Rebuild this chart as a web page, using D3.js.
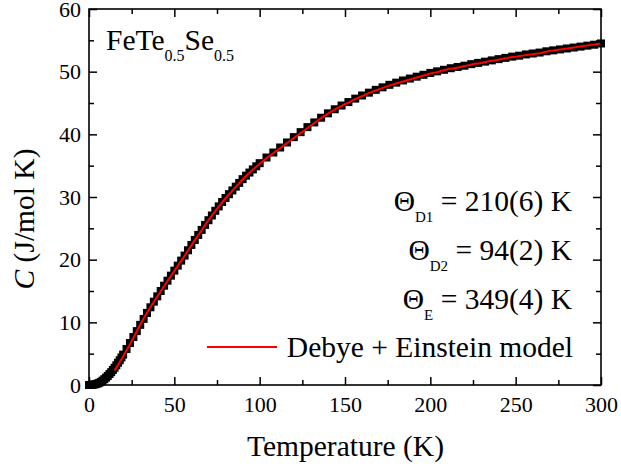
<!DOCTYPE html>
<html>
<head>
<meta charset="utf-8">
<script src="https://cdn.jsdelivr.net/npm/d3@7"></script>
</head>
<body style="margin:0">
<svg id="chart" width="621" height="469"></svg>
<script>
// ---- data ----
const tempK = [0,1,2,3,4,5,6,7,8,9,10,11,12,13,14,15,16,17,18,19,20,
  22,24,26,28,30,32,34,36,38,40,42,44,46,48,50,52,54,56,58,60,62,64,66,68,70,72,74,76,78,80,
  82,84,86,88,90,92,94,96,98,100,
  104,108,112,116,120,124,128,132,136,140,144,148,152,156,160,164,168,172,176,180,
  184,188,192,196,200,204,208,212,216,220,224,228,232,236,240,244,248,252,256,260,
  264,268,272,276,280,284,288,292,296,300];
const heatC = [0.00,0.02,0.04,0.08,0.14,0.23,0.35,0.50,0.70,0.93,1.18,1.45,1.75,2.05,2.40,2.75,3.15,3.55,3.95,4.40,4.85,
  5.75,6.70,7.65,8.60,9.60,10.55,11.50,12.40,13.30,14.15,15.00,15.85,16.65,17.45,18.25,19.05,19.85,20.65,21.50,22.35,23.15,23.95,24.75,25.55,26.30,27.05,27.80,28.50,29.20,29.85,
  30.45,31.05,31.65,32.25,32.85,33.40,33.90,34.40,34.90,35.40,
  36.30,37.10,37.90,38.70,39.55,40.35,41.15,41.90,42.65,43.35,44.00,44.60,45.15,45.70,46.20,46.65,47.10,47.50,47.90,48.25,
  48.60,48.90,49.20,49.50,49.80,50.05,50.30,50.55,50.75,50.95,51.20,51.40,51.60,51.80,52.00,52.20,52.40,52.55,52.75,52.90,
  53.05,53.25,53.40,53.55,53.70,53.85,54.00,54.15,54.30,54.50];

const fitT = [15,20,25,30,35,40,45,50,55,60,65,70,75,80,85,90,95,100,105,110,115,120,125,130,135,140,145,150,
  155,160,165,170,175,180,185,190,195,200,205,210,215,220,225,230,235,240,245,250,255,260,265,270,275,280,285,290,295,300];
const fitC = [2.3,4.6,7.0,9.6,12.0,14.1,16.2,18.2,20.2,22.3,24.3,26.3,28.1,29.8,31.3,32.8,34.1,35.3,36.4,37.4,38.4,39.4,40.4,41.4,42.4,43.3,44.1,44.8,
  45.5,46.1,46.7,47.2,47.7,48.1,48.5,48.9,49.3,49.7,50.0,50.4,50.6,50.9,51.2,51.4,51.7,51.9,52.2,52.4,52.6,52.8,53.0,53.3,53.5,53.7,53.9,54.1,54.3,54.5];

const xMajor = [0,50,100,150,200,250,300];
const xMinor = [25,75,125,175,225,275];
const yMajor = [0,10,20,30,40,50,60];
const yMinor = [5,15,25,35,45,55];

const thetaLabels = [
  {sym: "Θ", sub: "D1", rest: " = 210(6) K"},
  {sym: "Θ", sub: "D2", rest: " = 94(2) K"},
  {sym: "Θ", sub: "E",  rest: " = 349(4) K"}
];
const legendLabel = "Debye + Einstein model";

// ---- layout ----
const SERIF = "'Times New Roman', 'Liberation Serif', Tinos, serif";
const L = 89, R = 601, T = 9, B = 385;
const svg = d3.select("#chart").style("font-family", SERIF, "important");
const x = d3.scaleLinear().domain([0, 300]).range([L, R]);
const y = d3.scaleLinear().domain([0, 60]).range([B, T]);

// data squares
const sq = 8;
svg.append("g").selectAll("rect").data(tempK).join("rect")
  .attr("x", (d) => x(d) - sq / 2)
  .attr("y", (d, i) => y(heatC[i]) - sq / 2)
  .attr("width", sq).attr("height", sq)
  .attr("fill", "#000");

// fit line
const line = d3.line().x((d) => x(d[0])).y((d) => y(d[1])).curve(d3.curveMonotoneX);
svg.append("path")
  .datum(fitT.map((t, i) => [t, fitC[i]]))
  .attr("d", line)
  .attr("fill", "none").attr("stroke", "#ff0000").attr("stroke-width", 2);

// axes
function styleAxis(g) {
  g.attr("font-family", null).attr("font-size", null);
  g.select(".domain").remove();
  g.selectAll(".tick line").attr("stroke", "#000").attr("stroke-width", 1.5);
  g.selectAll(".tick text").style("font-family", SERIF, "important").style("font-size", "22px");
}
svg.append("g").attr("transform", `translate(0,${B})`)
  .call(d3.axisBottom(x).tickValues(xMajor).tickSize(-8).tickPadding(11.5).tickFormat(d3.format("d")))
  .call(styleAxis);
svg.append("g").attr("transform", `translate(0,${B})`)
  .call(d3.axisBottom(x).tickValues(xMinor).tickSize(-5).tickFormat(""))
  .call(styleAxis);
svg.append("g").attr("transform", `translate(0,${T})`)
  .call(d3.axisTop(x).tickValues(xMajor).tickSize(-8).tickFormat(""))
  .call(styleAxis);
svg.append("g").attr("transform", `translate(0,${T})`)
  .call(d3.axisTop(x).tickValues(xMinor).tickSize(-5).tickFormat(""))
  .call(styleAxis);
svg.append("g").attr("transform", `translate(${L},0)`)
  .call(d3.axisLeft(y).tickValues(yMajor).tickSize(-8).tickPadding(8).tickFormat(d3.format("d")))
  .call(styleAxis);
svg.append("g").attr("transform", `translate(${L},0)`)
  .call(d3.axisLeft(y).tickValues(yMinor).tickSize(-5).tickFormat(""))
  .call(styleAxis);
svg.append("g").attr("transform", `translate(${R},0)`)
  .call(d3.axisRight(y).tickValues(yMajor).tickSize(-8).tickFormat(""))
  .call(styleAxis);
svg.append("g").attr("transform", `translate(${R},0)`)
  .call(d3.axisRight(y).tickValues(yMinor).tickSize(-5).tickFormat(""))
  .call(styleAxis);

// frame
svg.append("rect").attr("x", L).attr("y", T).attr("width", R - L).attr("height", B - T)
  .attr("fill", "none").attr("stroke", "#000").attr("stroke-width", 1.6);

function txt(sel) { return sel.style("font-size", "29.5px").style("font-family", SERIF, "important"); }
txt(svg.append("text")).attr("x", (L + R) / 2 + 0.5).attr("y", 456)
  .attr("text-anchor", "middle").text("Temperature (K)");
const yl = txt(svg.append("text")).attr("transform", "translate(34,219) rotate(-90)")
  .attr("text-anchor", "middle");
yl.append("tspan").style("font-style", "italic").text("C");
yl.append("tspan").text(" (J/mol K)");

const comp = txt(svg.append("text")).attr("x", 106).attr("y", 49.5);
comp.append("tspan").text("FeTe");
comp.append("tspan").attr("dy", 11).style("font-size", "16px").text("0.5");
comp.append("tspan").attr("dy", -11).text("Se");
comp.append("tspan").attr("dy", 11).style("font-size", "16px").text("0.5");

const thetaY = [211, 260, 309];
thetaLabels.forEach((t, i) => {
  const tx = txt(svg.append("text")).attr("x", 572).attr("y", thetaY[i])
    .attr("text-anchor", "end");
  tx.append("tspan").text(t.sym);
  tx.append("tspan").attr("dy", 11).style("font-size", "15px").text(t.sub);
  tx.append("tspan").attr("dy", -11).text(t.rest);
});

svg.append("line").attr("x1", 207).attr("x2", 277).attr("y1", 347).attr("y2", 347)
  .attr("stroke", "#ff0000").attr("stroke-width", 2);
txt(svg.append("text")).attr("x", 573).attr("y", 357).attr("text-anchor", "end")
  .text(legendLabel);
</script>
</body>
</html>
